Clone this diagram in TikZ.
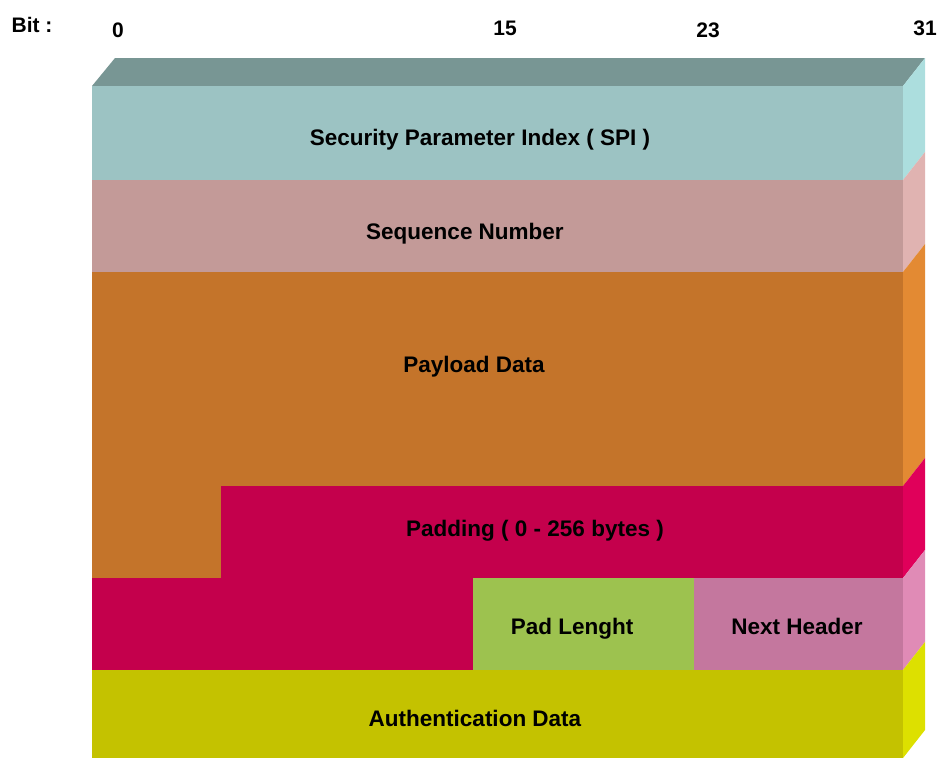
\documentclass[tikz,border=0pt]{standalone}
\usepackage{fontspec}
\setmainfont{Liberation Sans}

\definecolor{topface}{HTML}{789694}
\definecolor{spi}{HTML}{9CC3C3}
\definecolor{spiside}{HTML}{ACDEDE}
\definecolor{seq}{HTML}{C39A98}
\definecolor{seqside}{HTML}{E0B3B1}
\definecolor{pay}{HTML}{C4742A}
\definecolor{payside}{HTML}{E38A33}
\definecolor{pad}{HTML}{C4004C}
\definecolor{padside}{HTML}{E0005A}
\definecolor{padlen}{HTML}{9DC24F}
\definecolor{nexthdr}{HTML}{C4779E}
\definecolor{nexthdrside}{HTML}{E08BB6}
\definecolor{auth}{HTML}{C4C200}
\definecolor{authside}{HTML}{DDE000}

\begin{document}
\begin{tikzpicture}[x=1pt, y=-1pt,
  font=\fontsize{22.5}{27}\selectfont\bfseries,
  field/.style={inner sep=0pt, anchor=center},
  bitnum/.style={inner sep=0pt, font=\fontsize{21}{25}\selectfont\bfseries}]

\useasboundingbox (0,0) rectangle (940,758);

\fill[topface] (92,86) -- (115,58) -- (925,58) -- (903,86) -- cycle;

\fill[spi] (92,86) rectangle (903,180);
\fill[seq] (92,180) rectangle (903,272);
\fill[pay] (92,272) rectangle (903,486);
\fill[pay] (92,486) rectangle (221,578);
\fill[pad] (221,486) rectangle (903,578);
\fill[pad] (92,578) rectangle (473,670);
\fill[padlen] (473,578) rectangle (694,670);
\fill[nexthdr] (694,578) rectangle (903,670);
\fill[auth] (92,670) rectangle (903,758);

\foreach \ya/\yb/\col in {86/180/spiside, 180/272/seqside, 272/486/payside,
    486/578/padside, 578/670/nexthdrside, 670/758/authside}
  \fill[\col] (903,\ya) -- (925,\ya-28) -- (925,\yb-28) -- (903,\yb) -- cycle;

\node[bitnum] (bit) at (32,25) {Bit :};
\node[bitnum] (b0) at (118,30) {0};
\node[bitnum] (b15) at (505,28) {15};
\node[bitnum] (b23) at (708,30) {23};
\node[bitnum] (b31) at (925,28) {31};

\node[field] (spitext) at (480,140) {Security Parameter Index ( SPI )};
\node[field] (seqtext) at (465,234) {Sequence Number};
\node[field] (paytext) at (474,367) {Payload Data};
\node[field] (padtext) at (535,531) {Padding ( 0 - 256 bytes )};
\node[field] (lentext) at (572,629) {Pad Lenght};
\node[field] (nexttext) at (797,626) {Next Header};
\node[field] (authtext) at (475,718) {Authentication Data};

\end{tikzpicture}
\end{document}
